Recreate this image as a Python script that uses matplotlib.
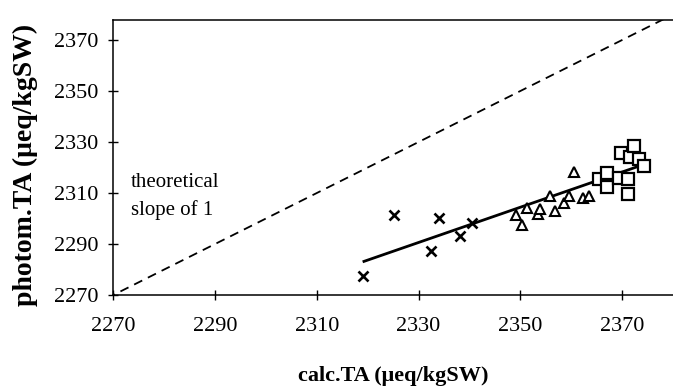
import numpy as np
import matplotlib.pyplot as plt

plt.rcParams['font.family'] = ['Liberation Serif', 'DejaVu Serif']

# calc.TA vs photom.TA (ueq/kgSW), three groups of samples
cross_x = [2319.0, 2325.2, 2332.5, 2334.1, 2338.2, 2340.5]
cross_y = [2277.5, 2301.4, 2287.4, 2300.1, 2293.1, 2298.1]

tri_x = [2349.2, 2350.4, 2351.4, 2353.5, 2353.9, 2355.8, 2356.8, 2358.6,
         2359.5, 2360.5, 2362.4, 2363.5]
tri_y = [2301.4, 2297.5, 2304.0, 2301.6, 2303.6, 2308.8, 2303.1, 2306.2,
         2308.8, 2318.4, 2307.9, 2308.8]

sq_x = [2365.4, 2367.1, 2367.1, 2369.4, 2369.7, 2371.2, 2371.2, 2371.6,
        2372.3, 2373.3, 2374.3]
sq_y = [2315.4, 2317.7, 2312.5, 2315.8, 2325.6, 2315.4, 2309.6, 2324.0,
        2328.4, 2323.2, 2320.6]

# regression line end points
fit_x = [2319.0, 2374.0]
fit_y = [2283.0, 2321.0]

# theoretical 1:1 line
one_to_one = [2266, 2385]

xticks = [2270, 2290, 2310, 2330, 2350, 2370]
yticks = [2270, 2290, 2310, 2330, 2350, 2370]

fig = plt.figure(figsize=(6.73, 3.88), dpi=100)
ax = fig.add_axes([0.1684, 0.2397, 0.8316, 0.7098])

ax.plot(one_to_one, one_to_one, color='black', lw=1.3, dashes=(5, 3.5))
ax.plot(fit_x, fit_y, color='black', lw=2.0, solid_capstyle='butt')

ax.plot(cross_x, cross_y, ls='none', marker='x', ms=7.5, mew=1.9, color='black')
ax.plot(tri_x, tri_y, ls='none', marker='^', ms=7.8, mew=1.5,
        mfc='white', mec='black')
ax.plot(sq_x, sq_y, ls='none', marker='s', ms=8.0, mew=1.6,
        mfc='white', mec='black')

ax.text(2273.5, 2314, 'theoretical', fontsize=15, va='center', ha='left')
ax.text(2273.5, 2303.5, 'slope of 1', fontsize=15, va='center', ha='left')

ax.set_xlim(2270, 2380)
ax.set_ylim(2270, 2378)
ax.set_xticks(xticks)
ax.set_yticks(yticks)
ax.tick_params(direction='inout', length=7, width=1.0, labelsize=16)
ax.tick_params(axis='x', pad=12)
ax.tick_params(axis='y', pad=7)

for s in ['left', 'top', 'bottom']:
    ax.spines[s].set_linewidth(1.1)
ax.spines['right'].set_visible(False)

ax.set_xlabel('calc.TA (\u03bceq/kgSW)', fontsize=16, fontweight='bold', labelpad=22)
ax.set_ylabel('photom.TA (\u03bceq/kgSW)', fontsize=20, fontweight='bold')
ax.yaxis.set_label_coords(-0.135, 0.472)

fig.savefig('out.png', dpi=100)
